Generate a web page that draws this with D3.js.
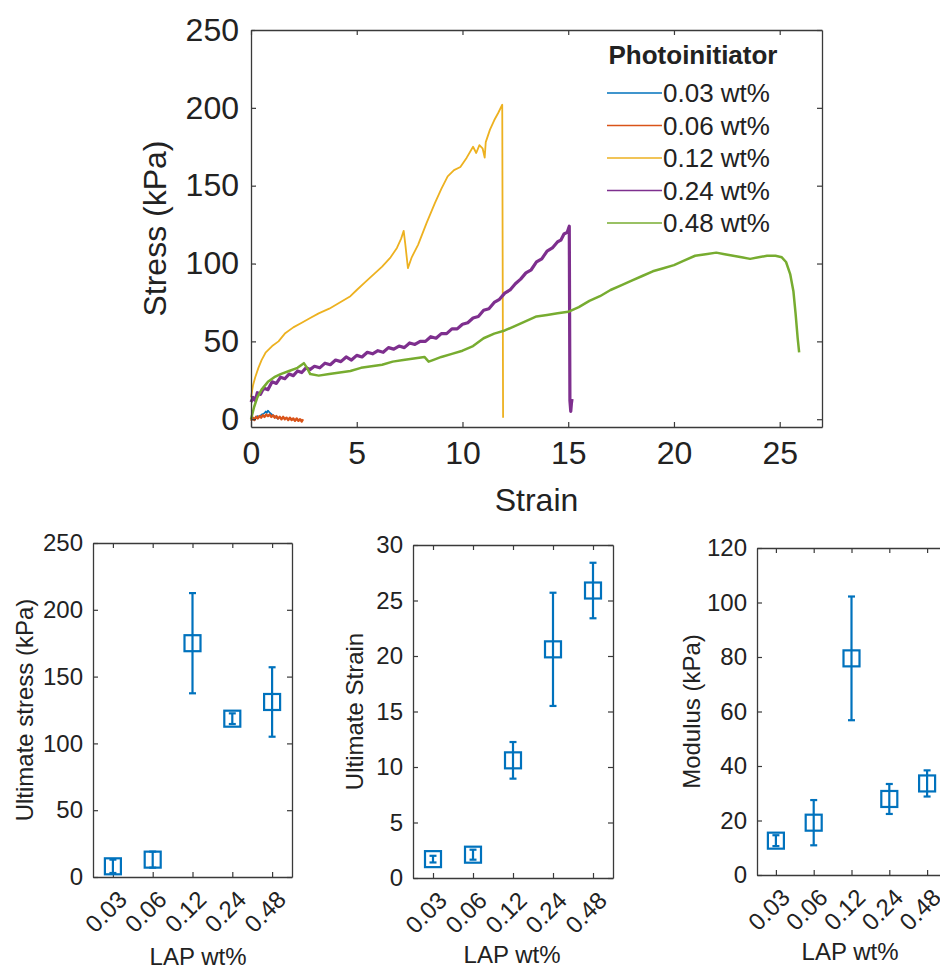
<!DOCTYPE html>
<meta charset="utf-8">

<!-- Load d3.js -->
<script src="https://d3js.org/d3.v7.min.js"></script>

<style>
  body { margin: 0; background: white; }
  text { font-family: "Liberation Sans", Arial, Helvetica, sans-serif; fill: #222; }
</style>

<!-- Create a div where the figure will take place -->
<div id="figure"></div>

<script>

    // ---- values ----
    const lapLabels = ["0.03", "0.06", "0.12", "0.24", "0.48"];
    const legendLabels = ["0.03 wt%", "0.06 wt%", "0.12 wt%", "0.24 wt%", "0.48 wt%"];
    const curveColors = ["#0072BD", "#D95319", "#EDB120", "#7E2F8E", "#77AC30"];

    // stress-strain curves, [strain, stress (kPa)]
    const curve003 = [[0,0],[0.1,1],[0.2,0.5],[0.3,2],[0.4,1.5],[0.5,3],[0.6,3.5],[0.7,5],[0.75,4],
      [0.8,5.5],[0.9,4],[1.0,3],[1.1,2],[1.2,1],[1.3,0]];
    const curve006 = [[0,-1],[0.08,1],[0.16,-0.5],[0.24,1.5],[0.32,0.5],[0.4,2],[0.48,1],[0.56,2.5],
      [0.64,1.5],[0.72,3],[0.8,2],[0.88,3],[0.96,1.5],[1.04,2.5],[1.12,1],[1.2,2],[1.28,0.5],[1.36,1.5],
      [1.44,0],[1.52,1.5],[1.6,0],[1.68,1],[1.76,-0.5],[1.84,1],[1.92,-0.5],[2.0,0.5],[2.08,-1],
      [2.16,0.5],[2.24,-1],[2.32,0],[2.4,-1.5],[2.46,0]];
    const curve012 = [[0,14],[0.1,22],[0.2,27],[0.35,33],[0.5,38],[0.7,43],[1.0,47],[1.3,50],[1.6,55],
      [2.0,59],[2.4,62],[2.8,65],[3.2,68],[3.7,71],[4.2,75],[4.7,79],[5.0,83],[5.4,88],[5.8,93],
      [6.2,98],[6.6,104],[6.9,110],[7.1,116],[7.22,121],[7.3,112],[7.42,97],[7.6,104],[7.9,112],
      [8.3,126],[8.7,139],[9.0,148],[9.3,156],[9.6,160],[9.9,162],[10.2,168],[10.5,175],[10.65,171],
      [10.8,176],[10.95,174],[11.05,168],[11.1,178],[11.3,186],[11.5,192],[11.7,197],[11.88,202],
      [11.92,1]];
    const curve024 = [[0,11],[0.1,14],[0.2,12],[0.3,17],[0.45,16],[0.6,20],[0.8,19],[1.0,24],[1.2,23],
      [1.4,27],[1.6,26],[1.8,29],[2.0,28],[2.2,31],[2.4,30],[2.6,33],[2.8,32],[3.0,34],[3.25,33],
      [3.5,36],[3.75,35],[4.0,38],[4.25,37],[4.5,40],[4.75,38],[5.0,41],[5.25,40],[5.5,43],[5.75,42],
      [6.0,44],[6.25,43],[6.5,46],[6.75,45],[7.0,47],[7.25,46],[7.5,49],[7.75,48],[8.0,50],[8.25,50],
      [8.5,53],[8.75,52],[9.0,55],[9.25,55],[9.5,58],[9.75,58],[10.0,61],[10.25,62],[10.5,65],
      [10.75,66],[11.0,70],[11.25,71],[11.5,75],[11.75,77],[12.0,81],[12.25,83],[12.5,87],[12.75,90],
      [13.0,94],[13.25,96],[13.5,101],[13.75,103],[14.0,108],[14.25,110],[14.5,114],[14.65,115],
      [14.8,119],[14.95,120],[15.05,124],[15.08,12],[15.12,5],[15.15,10],[15.18,13]];
    const curve048 = [[0,0],[0.15,8],[0.3,14],[0.5,19],[0.8,24],[1.1,27],[1.4,29],[1.8,31],[2.2,33],
      [2.5,36],[2.65,33],[2.8,29],[3.2,28],[3.7,29],[4.2,30],[4.7,31],[5.2,33],[5.7,34],[6.2,35],
      [6.7,37],[7.2,38],[7.7,39],[8.2,40],[8.4,37],[8.6,38],[9.0,40],[9.5,42],[10.0,44],[10.5,47],
      [11.0,52],[11.5,55],[12.0,57],[12.5,60],[13.0,63],[13.5,66],[14.0,67],[14.5,68],[15.0,69],
      [15.5,72],[16.0,76],[16.5,79],[17.0,83],[17.5,86],[18.0,89],[18.5,92],[19.0,95],[19.5,97],
      [20.0,99],[20.5,102],[21.0,105],[21.5,106],[22.0,107],[22.4,106],[22.8,105],[23.2,104],
      [23.6,103],[24.0,104],[24.4,105],[24.8,105],[25.1,104],[25.3,101],[25.5,93],[25.65,82],
      [25.75,68],[25.85,52],[25.92,43]];
    const curves = [curve003, curve006, curve012, curve024, curve048];

    const strainTicks = [0, 5, 10, 15, 20, 25];
    const stressTicks = [0, 50, 100, 150, 200, 250];

    // summary panels: mean and error per LAP wt%
    const ultStress = [8, 13, 175, 118.5, 131];
    const ultStressErr = [5, 6, 37.5, 4, 26];
    const ultStrain = [1.7, 2.1, 10.6, 20.6, 25.9];
    const ultStrainErr = [0.3, 0.45, 1.65, 5.1, 2.5];
    const modulus = [12.6, 19.2, 79.5, 27.9, 33.6];
    const modulusErr = [2, 8.3, 22.7, 5.5, 4.8];

    const ultStressTicks = [0, 50, 100, 150, 200, 250];
    const ultStrainTicks = [0, 5, 10, 15, 20, 25, 30];
    const modulusTicks = [0, 20, 40, 60, 80, 100, 120];

    const axisColor = "#3a3a3a";
    const markColor = "#0072BD";

    const svg = d3.select("#figure")
      .append("svg")
        .attr("width", 940)
        .attr("height", 969)
        .style("background", "white");

    // draw the four sides of an axes box with inward ticks
    function drawFrame(g, x, y, box, o) {
      const bottom = g.append("g")
        .attr("transform", "translate(0," + box.bottom + ")")
        .call(d3.axisBottom(x).tickValues(o.xTicks).tickSizeInner(-5).tickSizeOuter(0)
          .tickPadding(o.xPad).tickFormat(o.xFormat));
      g.append("g")
        .attr("transform", "translate(0," + box.top + ")")
        .call(d3.axisTop(x).tickValues(o.xTicks).tickSizeInner(-5).tickSizeOuter(0).tickFormat(""));
      g.append("g")
        .attr("transform", "translate(" + box.left + ",0)")
        .call(d3.axisLeft(y).tickValues(o.yTicks).tickSizeInner(-5).tickSizeOuter(0).tickPadding(o.yPad));
      g.append("g")
        .attr("transform", "translate(" + box.right + ",0)")
        .call(d3.axisRight(y).tickValues(o.yTicks).tickSizeInner(-5).tickSizeOuter(0).tickFormat(""));

      g.selectAll(".domain").attr("stroke", axisColor).attr("stroke-width", 1.3);
      g.selectAll(".tick line").attr("stroke", axisColor).attr("stroke-width", 1.2);
      g.selectAll(".tick text")
        .attr("font-family", "'Liberation Sans', Arial, sans-serif")
        .attr("font-size", o.fontSize)
        .attr("fill", "#222");
      return bottom;
    }

    // ---------- top panel: stress-strain curves ----------
    const topBox = {left: 251, right: 822, top: 30, bottom: 427};
    const x = d3.scaleLinear().domain([0, 27]).range([topBox.left, topBox.right]);
    const y = d3.scaleLinear().domain([-5, 250]).range([topBox.bottom, topBox.top]);

    const topG = svg.append("g");

    const line = d3.line()
      .x(function (d) { return x(d[0]); })
      .y(function (d) { return y(d[1]); });

    const widths = [1.6, 2.4, 1.8, 3.2, 2.5];
    topG.append("g")
      .selectAll("path")
      .data(curves)
      .enter()
      .append("path")
        .attr("d", line)
        .attr("fill", "none")
        .attr("stroke", function (d, i) { return curveColors[i]; })
        .attr("stroke-width", function (d, i) { return widths[i]; })
        .attr("stroke-linejoin", "round");

    drawFrame(topG, x, y, topBox, {
      xTicks: strainTicks, yTicks: stressTicks, xPad: 14, yPad: 12, fontSize: 32,
      xFormat: d3.format("d")
    });

    topG.append("text")
      .attr("text-anchor", "middle")
      .attr("x", (topBox.left + topBox.right) / 2)
      .attr("y", 511)
      .attr("font-size", 32)
      .text("Strain");

    topG.append("text")
      .attr("text-anchor", "middle")
      .attr("transform", "translate(166," + (topBox.top + topBox.bottom) / 2 + ") rotate(-90)")
      .attr("font-size", 32)
      .text("Stress (kPa)");

    // legend
    const legend = topG.append("g");
    legend.append("text")
      .attr("x", 693)
      .attr("y", 55)
      .attr("dy", "0.35em")
      .attr("text-anchor", "middle")
      .attr("font-weight", "bold")
      .attr("font-size", 26)
      .text("Photoinitiator");
    legendLabels.forEach(function (lab, i) {
      const ly = 93 + i * 32.5;
      legend.append("line")
        .attr("x1", 607).attr("x2", 662)
        .attr("y1", ly).attr("y2", ly)
        .attr("stroke", curveColors[i])
        .attr("stroke-width", 1.3);
      legend.append("text")
        .attr("x", 663)
        .attr("y", ly)
        .attr("dy", "0.35em")
        .attr("font-size", 26)
        .text(lab);
    });

    // ---------- bottom panels: mean +/- error ----------
    function errorPanel(box, values, errors, ticks, yMax, yLabel, yLabelX, xLabelPos, xLabelText) {
      const g = svg.append("g");
      const xs = d3.scalePoint().domain(lapLabels).range([box.left, box.right]).padding(0.5);
      const ys = d3.scaleLinear().domain([0, yMax]).range([box.bottom, box.top]);

      const bottom = drawFrame(g, xs, ys, box, {
        xTicks: lapLabels, yTicks: ticks, xPad: 0, yPad: 10, fontSize: 24, xFormat: null
      });
      bottom.selectAll(".tick text")
        .attr("y", 0)
        .attr("dy", "0.35em")
        .attr("text-anchor", "end")
        .attr("transform", "translate(9,18) rotate(-45)");

      const pts = g.append("g")
        .selectAll("g")
        .data(lapLabels)
        .enter()
        .append("g")
          .attr("stroke", markColor)
          .attr("stroke-width", 2.2)
          .attr("fill", "none");

      pts.append("line")
        .attr("x1", function (d) { return xs(d); })
        .attr("x2", function (d) { return xs(d); })
        .attr("y1", function (d, i) { return ys(values[i] - errors[i]); })
        .attr("y2", function (d, i) { return ys(values[i] + errors[i]); });
      [-1, 1].forEach(function (s) {
        pts.append("line")
          .attr("x1", function (d) { return xs(d) - 3.5; })
          .attr("x2", function (d) { return xs(d) + 3.5; })
          .attr("y1", function (d, i) { return ys(values[i] + s * errors[i]); })
          .attr("y2", function (d, i) { return ys(values[i] + s * errors[i]); });
      });
      pts.append("rect")
        .attr("x", function (d) { return xs(d) - 8; })
        .attr("y", function (d, i) { return ys(values[i]) - 8; })
        .attr("width", 16)
        .attr("height", 16);

      g.append("text")
        .attr("text-anchor", "middle")
        .attr("transform", "translate(" + yLabelX + "," + (box.top + box.bottom) / 2 + ") rotate(-90)")
        .attr("dy", "0.35em")
        .attr("font-size", 24)
        .text(yLabel);

      g.append("text")
        .attr("text-anchor", "middle")
        .attr("x", xLabelPos[0])
        .attr("y", xLabelPos[1])
        .attr("dy", "0.35em")
        .attr("font-size", 24)
        .text(xLabelText);
    }

    errorPanel({left: 93, right: 292, top: 543, bottom: 877}, ultStress, ultStressErr,
      ultStressTicks, 250, "Ultimate stress (kPa)", 25, [198, 957], "LAP wt%");
    errorPanel({left: 413, right: 613, top: 545, bottom: 878}, ultStrain, ultStrainErr,
      ultStrainTicks, 30, "Ultimate Strain", 355, [512, 955], "LAP wt%");
    errorPanel({left: 757, right: 946, top: 548, bottom: 875}, modulus, modulusErr,
      modulusTicks, 120, "Modulus (kPa)", 692, [850, 952], "LAP wt%");

</script>
